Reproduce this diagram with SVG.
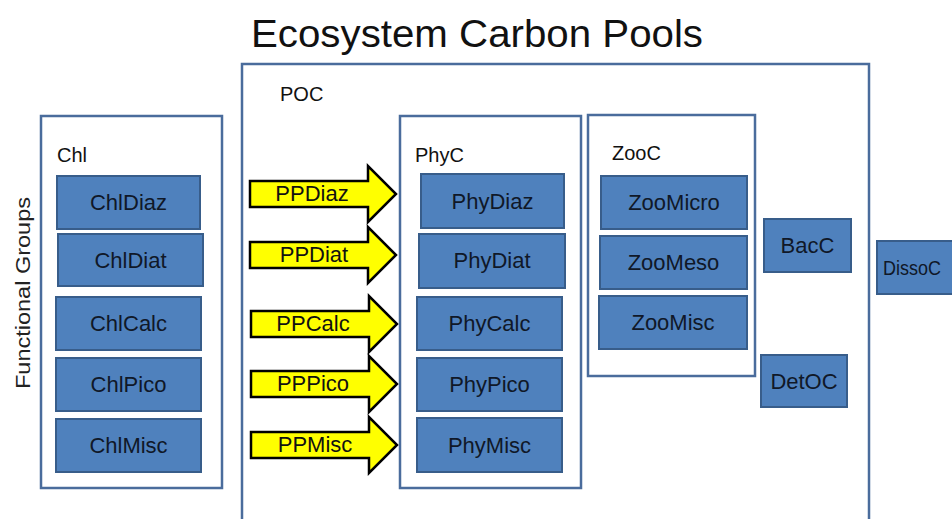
<svg xmlns="http://www.w3.org/2000/svg" width="952" height="519" viewBox="0 0 952 519">
<defs>
<style>
.bg{fill:#ffffff}
.cont{fill:#ffffff;stroke:#4a6c9c;stroke-width:2.5}
.node{fill:#4f81bd;stroke:#385d8a;stroke-width:2}
.nt{font-family:"Liberation Sans",Arial,sans-serif;font-size:22px;fill:#101828;text-anchor:middle}
.lbl{font-family:"Liberation Sans",Arial,sans-serif;font-size:20px;fill:#111111}
.arr{fill:#ffff00;stroke:#000000;stroke-width:2.5;stroke-linejoin:miter}
.at{font-family:"Liberation Sans",Arial,sans-serif;font-size:22px;fill:#111111;text-anchor:middle}
</style>
<path id="arrowShape" d="M0,-13 H118 V-28 L146,0 L118,28 V13 H0 Z"/>
</defs>
<rect class="bg" x="0" y="0" width="952" height="519"/>
<text x="477" y="47" font-family="Liberation Sans,Arial,sans-serif" font-size="38" fill="#111111" text-anchor="middle" textLength="452" lengthAdjust="spacingAndGlyphs">Ecosystem Carbon Pools</text>
<text transform="translate(30,293) rotate(-90)" font-family="Liberation Sans,Arial,sans-serif" font-size="21" fill="#222222" text-anchor="middle" textLength="192" lengthAdjust="spacingAndGlyphs">Functional Groups</text>

<g id="POC">
<rect class="cont" x="242" y="64" width="627" height="470"/>
<text class="lbl" x="280" y="101">POC</text>
</g>
<g id="Chl">
<rect class="cont" x="41" y="116" width="181" height="372"/>
<text class="lbl" x="57" y="162">Chl</text>
</g>
<g id="ChlDiaz"><rect class="node" x="57" y="176" width="143" height="53"/><text class="nt" x="128.5" y="210">ChlDiaz</text></g>
<g id="ChlDiat"><rect class="node" x="58" y="234" width="145" height="52"/><text class="nt" x="130.5" y="268">ChlDiat</text></g>
<g id="ChlCalc"><rect class="node" x="56" y="297" width="145" height="53"/><text class="nt" x="128.5" y="331">ChlCalc</text></g>
<g id="ChlPico"><rect class="node" x="56" y="358" width="145" height="53"/><text class="nt" x="128.5" y="392">ChlPico</text></g>
<g id="ChlMisc"><rect class="node" x="56" y="419" width="145" height="53"/><text class="nt" x="128.5" y="453">ChlMisc</text></g>

<g id="PhyC">
<rect class="cont" x="400" y="116" width="181" height="372"/>
<text class="lbl" x="415" y="162">PhyC</text>
</g>
<g id="PhyDiaz"><rect class="node" x="421" y="174" width="143" height="54"/><text class="nt" x="492.5" y="209">PhyDiaz</text></g>
<g id="PhyDiat"><rect class="node" x="419" y="234" width="146" height="54"/><text class="nt" x="492" y="268">PhyDiat</text></g>
<g id="PhyCalc"><rect class="node" x="417" y="297" width="145" height="53"/><text class="nt" x="489.5" y="331">PhyCalc</text></g>
<g id="PhyPico"><rect class="node" x="417" y="358" width="145" height="53"/><text class="nt" x="489.5" y="392">PhyPico</text></g>
<g id="PhyMisc"><rect class="node" x="417" y="418" width="145" height="54"/><text class="nt" x="489.5" y="453">PhyMisc</text></g>

<g id="ZooC">
<rect class="cont" x="588" y="115" width="167" height="261"/>
<text class="lbl" x="612" y="160">ZooC</text>
</g>
<g id="ZooMicro"><rect class="node" x="601" y="176" width="146" height="53"/><text class="nt" x="674" y="210">ZooMicro</text></g>
<g id="ZooMeso"><rect class="node" x="600" y="236" width="147" height="53"/><text class="nt" x="673.5" y="270">ZooMeso</text></g>
<g id="ZooMisc"><rect class="node" x="599" y="296" width="148" height="53"/><text class="nt" x="673" y="330">ZooMisc</text></g>

<g id="BacC"><rect class="node" x="764" y="219" width="87" height="53"/><text class="nt" x="807.5" y="253">BacC</text></g>
<g id="DetOC"><rect class="node" x="761" y="355" width="86" height="52"/><text class="nt" x="804" y="389">DetOC</text></g>
<g id="DissoC"><rect class="node" x="877" y="241" width="90" height="53"/><text class="nt" x="883" y="275" style="text-anchor:start;font-size:21px" textLength="58" lengthAdjust="spacingAndGlyphs">DissoC</text></g>

<g id="connectors">
<g id="PPDiaz"><use href="#arrowShape" class="arr" x="250" y="194"/><text class="at" x="312" y="201">PPDiaz</text></g>
<g id="PPDiat"><use href="#arrowShape" class="arr" x="250" y="255"/><text class="at" x="314" y="262">PPDiat</text></g>
<g id="PPCalc"><use href="#arrowShape" class="arr" x="251" y="324"/><text class="at" x="313" y="331">PPCalc</text></g>
<g id="PPPico"><use href="#arrowShape" class="arr" x="251" y="384"/><text class="at" x="313" y="391">PPPico</text></g>
<g id="PPMisc"><use href="#arrowShape" class="arr" x="251" y="445"/><text class="at" x="315" y="452">PPMisc</text></g>
</g>
</svg>
